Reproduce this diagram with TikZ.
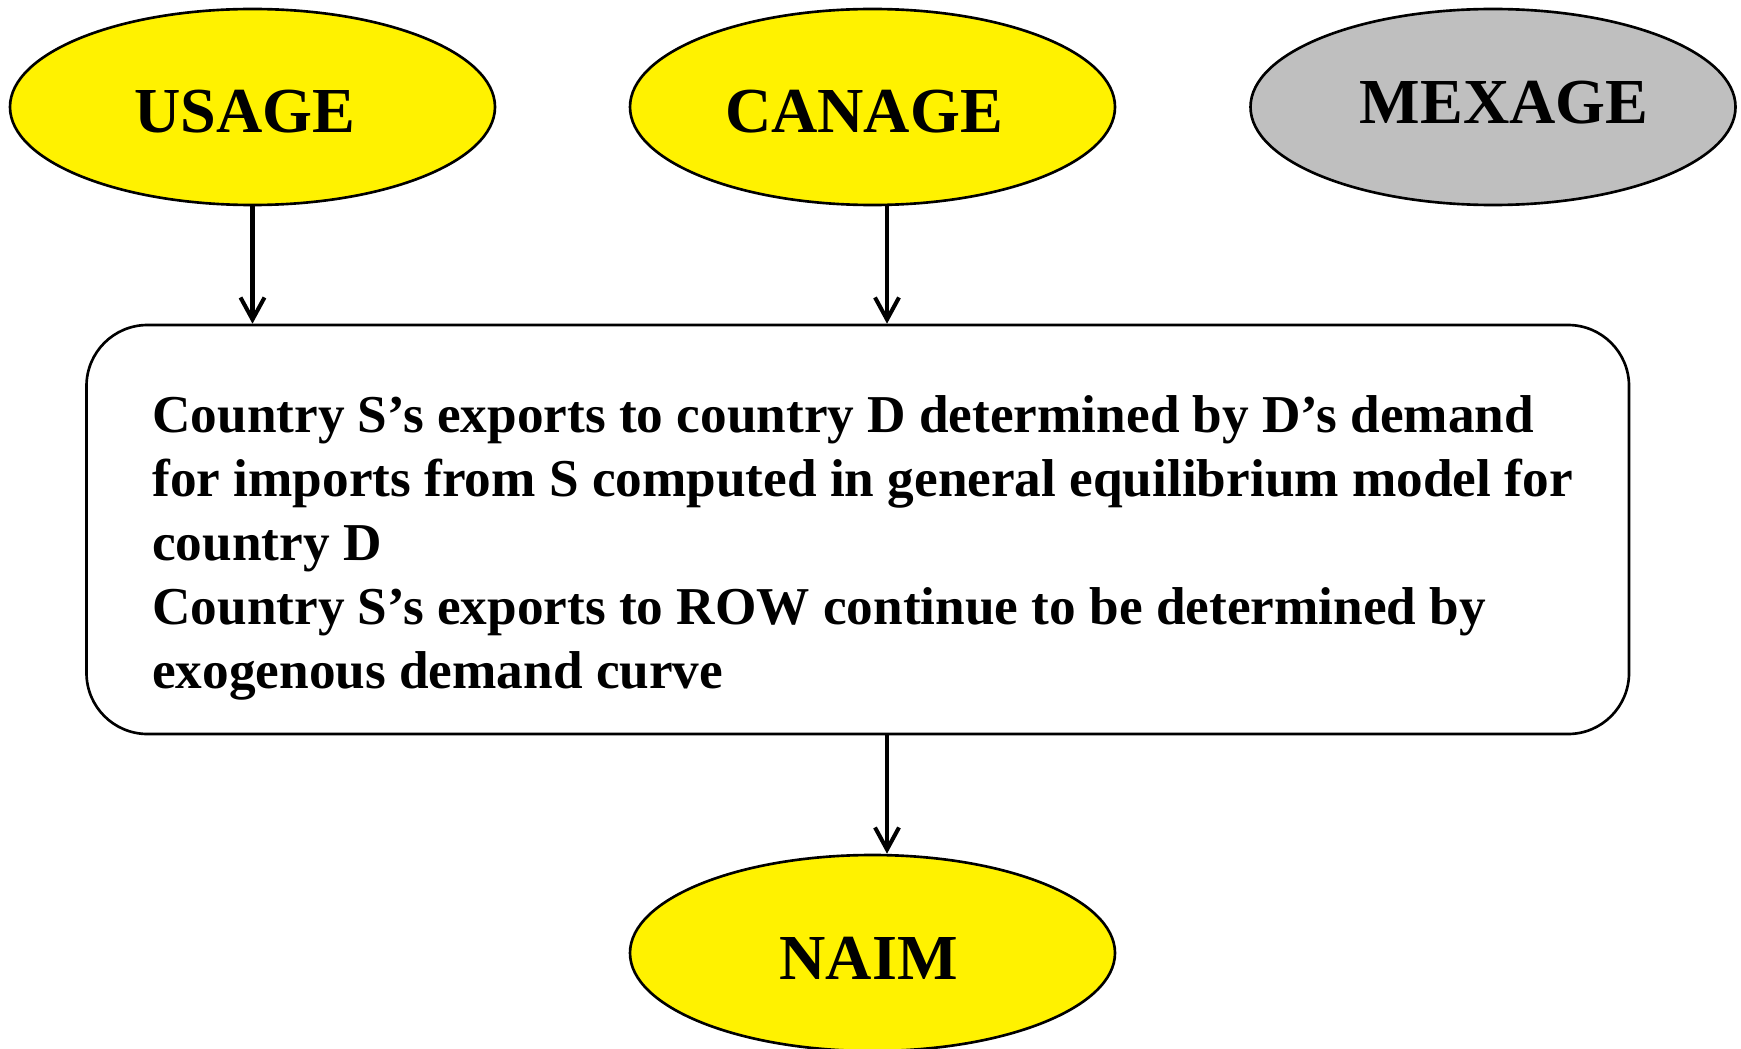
\documentclass[tikz,border=0pt]{standalone}
\usepackage{fontspec}
\setmainfont{Liberation Serif}
\usetikzlibrary{arrows.meta, positioning, shapes.geometric}

\begin{document}
\begin{tikzpicture}[>={Straight Barb[length=0.44cm, width=0.48cm]},
      model/.style={draw, ellipse, line width=1.5pt, minimum width=9.7cm,
                    minimum height=3.92cm, inner sep=0pt},
      modelname/.style={inner sep=0pt, font=\fontsize{36.5}{44}\selectfont\bfseries},
      frame/.style={draw, rounded corners=1.22cm, line width=1.5pt,
                    minimum width=30.85cm, minimum height=8.18cm},
      flow/.style={->, line width=2.3pt},
      txt/.style={font=\fontsize{30.3}{36.5}\selectfont\bfseries,
                  align=left, inner sep=0pt}]

    \def\ty{-2.14}  % row of the three source models
    \clip (0,0) rectangle (34.82,-20.96);

    % Source models
    \node[model, fill=yellow]  (usage)  at (5.05, \ty)  {};
    \node[model, fill=yellow]  (canage) at (17.45, \ty) {};
    \node[model, fill=gray!50] (mexage) at (29.86, \ty) {};
    \node[modelname] (usagelbl)  at ([shift={(-0.15,-0.09)}]usage.center)  {USAGE};
    \node[modelname] (canagelbl) at ([shift={(-0.17,-0.09)}]canage.center) {CANAGE};
    \node[modelname] (mexagelbl) at ([shift={(0.22,0.09)}]mexage.center)   {MEXAGE};

    % Linking box
    \node[frame] (box) at (17.155, -10.59) {};
    \node[txt, anchor=north west] (boxtext) at (3.04, -7.90)
      {Country S’s exports to country D determined by D’s demand\\
       for imports from S computed in general equilibrium model for\\
       country D\\
       Country S’s exports to ROW continue to be determined by\\
       exogenous demand curve};

    % Target model
    \node[model, fill=yellow] (naim) at (17.45, -19.06) {};
    \node[modelname] (naimlbl) at ([shift={(-0.08,-0.11)}]naim.center) {NAIM};

    % Arrows (right column sits a little right of the ellipse centres)
    \coordinate (cola) at ([xshift=0.29cm]canage.south);
    \draw[flow] (usage.south) -- (usage.south |- box.north);
    \draw[flow] (cola) -- (cola |- box.north);
    \draw[flow] (cola |- box.south) -- (cola |- naim.north);

\end{tikzpicture}
\end{document}
